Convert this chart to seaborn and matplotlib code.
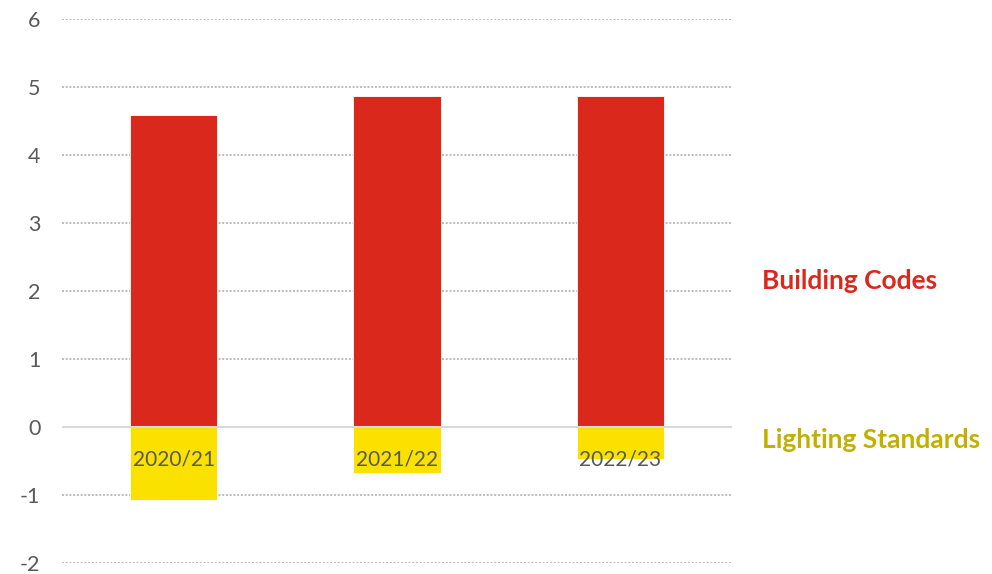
import matplotlib
matplotlib.use("Agg")
import matplotlib.pyplot as plt
import seaborn as sns
import pandas as pd

# Chart data
periods = ["2020/21", "2021/22", "2022/23"]
building_codes = [4.59, 4.87, 4.87]
lighting_standards = [-1.07, -0.67, -0.47]
y_ticks = [-2, -1, 0, 1, 2, 3, 4, 5, 6]
series_names = ["Building Codes", "Lighting Standards"]

RED = "#DA291C"
YELLOW = "#FAE100"
YELLOW_TEXT = "#C2B000"
GRID = "#BFBFBF"
TICK_TEXT = "#595959"

sns.set_theme(style="white")
plt.rcParams["font.family"] = ["Lato", "DejaVu Sans"]

df = pd.DataFrame({
    "period": periods * 2,
    "value": building_codes + lighting_standards,
    "series": [series_names[0]] * 3 + [series_names[1]] * 3,
})

fig = plt.figure(figsize=(9.92, 5.74), dpi=100)
ax = fig.add_axes([62 / 992, 1 - 563 / 574, 670 / 992, (563 - 19.3) / 574])

for name, color in zip(series_names, [RED, YELLOW]):
    sns.barplot(data=df[df["series"] == name], x="period", y="value",
                order=periods, color=color, width=0.39, ax=ax,
                edgecolor="white", linewidth=0.6, zorder=2, saturation=1)

# Horizontal guides: dotted for every tick, solid at zero
for t in y_ticks:
    if t == 0:
        ax.axhline(t, color="#D9D9D9", linewidth=1.5, zorder=3)
    else:
        ax.axhline(t, color=GRID, linewidth=1.45, linestyle=(0, (1, 0.85)), zorder=0.5)

ax.set_xlim(-0.5, len(periods) - 0.5)
ax.set_ylim(y_ticks[0], y_ticks[-1])
ax.set_yticks(y_ticks)
ax.set_yticklabels([str(t) for t in y_ticks])
ax.set_xlabel("")
ax.set_ylabel("")

for s in ax.spines.values():
    s.set_visible(False)
ax.spines["bottom"].set_position(("data", 0))

ax.tick_params(axis="y", length=0, pad=15.5, labelsize=15.5, labelcolor=TICK_TEXT)
ax.tick_params(axis="x", length=0, pad=16.5, labelsize=15, labelcolor=TICK_TEXT)
for lbl in ax.get_xticklabels():
    lbl.set_zorder(5)
ax.xaxis.set_zorder(5)

# Series labels to the right of the plot
fig.text(762 / 992, 1 - 281 / 574, series_names[0], color=RED, fontsize=19,
         fontweight="bold", va="center", ha="left")
fig.text(762 / 992, 1 - 440 / 574, series_names[1], color=YELLOW_TEXT, fontsize=19,
         fontweight="bold", va="center", ha="left")

fig.savefig("out.png", dpi=100, facecolor="white")
